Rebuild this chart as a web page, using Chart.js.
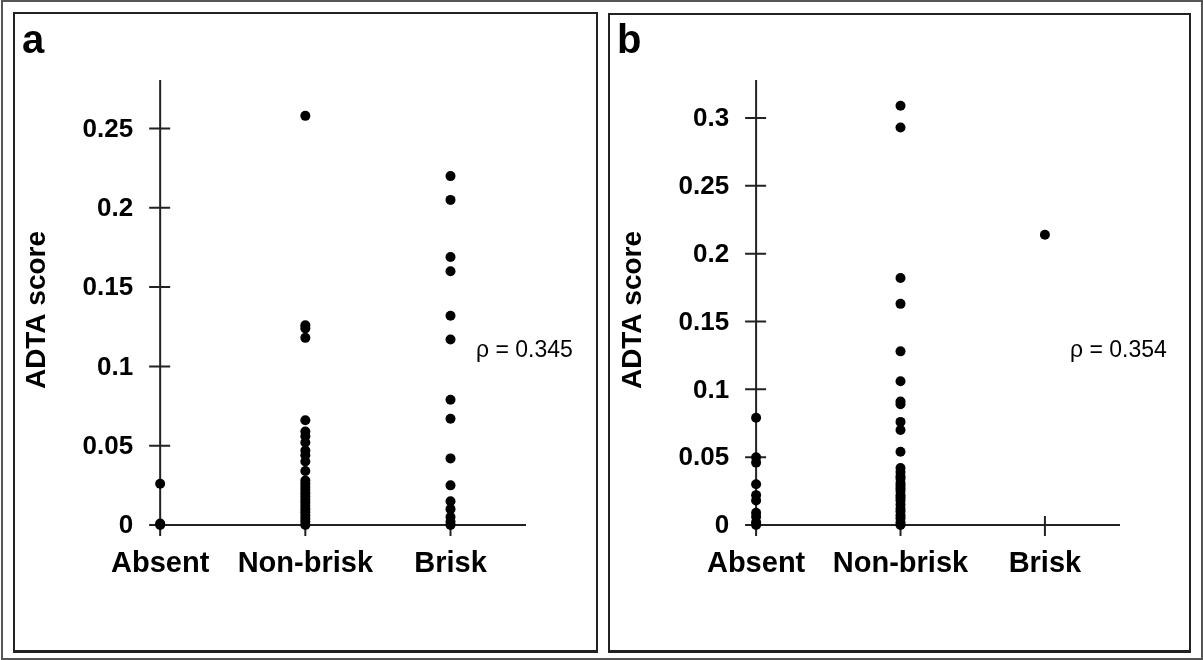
<!DOCTYPE html>
<html>
<head>
<meta charset="utf-8">
<script src="https://cdn.jsdelivr.net/npm/chart.js@4/dist/chart.umd.min.js"></script>
<style>
  body { margin: 0; background: #fff; }
  #wrap { position: relative; width: 1203px; height: 660px; overflow: hidden; }
  .frame { position: absolute; box-sizing: border-box; border: 2px solid #222; }
  canvas { position: absolute; top: 0; }
</style>
</head>
<body>
<div id="wrap">
  <div class="frame" style="left:1px;top:0;width:1202px;height:660px;border-color:#555"></div>
  <div class="frame" style="left:13px;top:12px;width:585px;height:641px;border-bottom-width:3px"></div>
  <div class="frame" style="left:608px;top:13px;width:583px;height:640px;border-bottom-width:3px"></div>
  <canvas id="chartA" width="600" height="660" style="left:0"></canvas>
  <canvas id="chartB" width="603" height="660" style="left:600px"></canvas>
</div>
<script>
const categories = ['Absent', 'Non-brisk', 'Brisk'];

// panel a
const aAbsent = [0.026, 0.001, 0];
const aNonBrisk = [0.258, 0.126, 0.124, 0.118, 0.066, 0.059, 0.056, 0.052, 0.047, 0.044, 0.040, 0.034,
  0.028, 0.026, 0.024, 0.022, 0.020, 0.018, 0.016, 0.014, 0.012, 0.010, 0.008, 0.006, 0.004, 0.002, 0];
const aBrisk = [0.220, 0.205, 0.169, 0.160, 0.132, 0.117, 0.079, 0.067, 0.042, 0.025, 0.015, 0.010, 0.005, 0.002, 0];
const aYTicks = [0, 0.05, 0.1, 0.15, 0.2, 0.25];

// panel b
const bAbsent = [0.079, 0.050, 0.046, 0.030, 0.022, 0.018, 0.009, 0.006, 0.002, 0];
const bNonBrisk = [0.309, 0.293, 0.182, 0.163, 0.128, 0.106, 0.091, 0.089, 0.076, 0.070, 0.054, 0.042,
  0.039, 0.036, 0.034, 0.031, 0.029, 0.027, 0.025, 0.022, 0.020, 0.018, 0.015, 0.012, 0.010, 0.007, 0.005, 0.002, 0];
const bBrisk = [0.214];
const bYTicks = [0, 0.05, 0.1, 0.15, 0.2, 0.25, 0.3];

const FONT = '"Liberation Sans", Arial, sans-serif';

const panelAxes = {
  id: 'panelAxes',
  beforeDatasetsDraw(chart, args, opts) {
    const { ctx, chartArea, scales: { x, y } } = chart;
    const x0 = x.getPixelForValue(0);
    const y0 = y.getPixelForValue(0);
    ctx.save();
    ctx.strokeStyle = '#222';
    ctx.lineWidth = 2;
    ctx.beginPath();
    ctx.moveTo(chartArea.left, y0);
    ctx.lineTo(chartArea.right, y0);
    ctx.moveTo(x0, chartArea.top);
    ctx.lineTo(x0, y0);
    opts.yTicks.forEach(v => {
      const py = y.getPixelForValue(v);
      ctx.moveTo(x0 - 11, py);
      ctx.lineTo(x0 + 10, py);
    });
    categories.forEach((c, i) => {
      const px = x.getPixelForValue(i);
      ctx.moveTo(px, y0 - 9);
      ctx.lineTo(px, y0 + 11);
    });
    ctx.stroke();

    ctx.fillStyle = '#000';
    ctx.font = 'bold 26px ' + FONT;
    ctx.textAlign = 'right';
    ctx.textBaseline = 'middle';
    opts.yTicks.forEach(v => ctx.fillText(String(v), x0 - 27, y.getPixelForValue(v) + 1));

    ctx.font = 'bold 29px ' + FONT;
    ctx.textAlign = 'center';
    ctx.textBaseline = 'alphabetic';
    categories.forEach((c, i) => ctx.fillText(c, x.getPixelForValue(i), 572));

    ctx.save();
    ctx.translate(opts.titleX, 310);
    ctx.rotate(-Math.PI / 2);
    ctx.textBaseline = 'middle';
    ctx.font = 'bold 28px ' + FONT;
    ctx.fillText('ADTA score', 0, 0);
    ctx.restore();

    ctx.font = 'bold 40px ' + FONT;
    ctx.textAlign = 'left';
    ctx.fillText(opts.letter, opts.letterX, 53);

    ctx.font = '23px ' + FONT;
    ctx.textBaseline = 'middle';
    ctx.fillText(opts.rho, opts.rhoX, 351);
    ctx.restore();
  }
};

function makePanel(id, series, yMax, yTicks, pad, extra) {
  const datasets = series.map((vals, i) => ({
    data: vals.map(v => ({ x: i, y: v })),
    backgroundColor: '#000',
    borderWidth: 0,
    pointRadius: 5,
    clip: false
  }));
  new Chart(document.getElementById(id), {
    type: 'scatter',
    data: { datasets },
    options: {
      responsive: false,
      animation: false,
      layout: { padding: pad },
      scales: {
        x: { type: 'linear', min: -0.07, max: 2.52, display: false },
        y: { type: 'linear', min: 0, max: yMax, display: false }
      },
      plugins: {
        legend: { display: false },
        tooltip: { enabled: false },
        panelAxes: Object.assign({ yTicks }, extra)
      }
    },
    plugins: [panelAxes]
  });
}

makePanel('chartA', [aAbsent, aNonBrisk, aBrisk], 0.2806, aYTicks,
  { left: 150, right: 74, top: 80, bottom: 135 },
  { letter: 'a', letterX: 22, titleX: 37, rho: 'ρ = 0.345', rhoX: 476 });

makePanel('chartB', [bAbsent, bNonBrisk, bBrisk], 0.328, bYTicks,
  { left: 146, right: 83, top: 80, bottom: 135 },
  { letter: 'b', letterX: 17, titleX: 33, rho: 'ρ = 0.354', rhoX: 470 });
</script>
</body>
</html>
